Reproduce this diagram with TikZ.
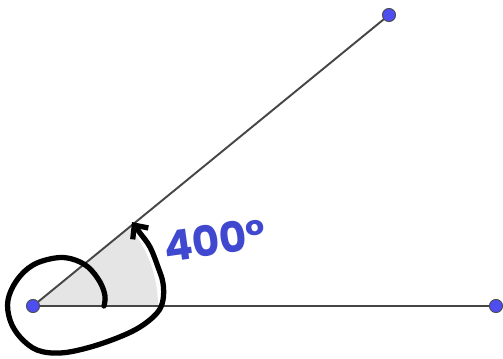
\documentclass[tikz,border=0pt]{standalone}
\usepackage{fontspec}
\setmainfont{Poppins}
\usetikzlibrary{arrows.meta}
\definecolor{puntoazul}{RGB}{77,77,240}
\definecolor{tinta}{RGB}{64,72,208}
\definecolor{lado}{RGB}{70,70,70}
\begin{document}
\begin{tikzpicture}[x=0.02cm, y=-0.02cm,
    punto/.style={circle, fill=puntoazul, draw=black!70, line width=0.5pt, minimum size=7.5pt, inner sep=0pt},
    ladoangulo/.style={draw=lado, line width=1.1pt},
    trazo/.style={line width=3pt, line cap=round, line join=round}]
    \useasboundingbox (0,0) rectangle (503,358);

    % Sector sombreado del angulo
    \fill[black!10] (33,306) -- ++(0:125) arc[start angle=0, end angle=-39.3, radius=125] -- cycle;

    % Lados del angulo
    \coordinate (V) at (33,306);
    \coordinate (A) at (389,15);
    \coordinate (B) at (496,306);
    \draw[ladoangulo] (V) -- (A);
    \draw[ladoangulo] (V) -- (B);

    % Espiral dibujada a mano
    \draw[trazo, -{Straight Barb[length=6pt, width=11pt, line width=3pt]}]
        plot[smooth, tension=0.6] coordinates {
            (104,306) (105,296) (100,282) (88,267) (72,259) (55,258)
            (33,265) (17,280) (8,300) (10,320) (20,337) (37,350)
            (60,353) (87,348) (117,338) (140,327) (157,313) (163,300)
            (163,283) (158,267) (150,247) (140,233) (132,222)
        };

    % Medida del angulo
    \node[text=tinta, font=\fontsize{24}{24}\selectfont\bfseries, rotate=8, inner sep=0pt] (medida) at (215,240) {400°};

    % Puntos
    \node[punto] (pV) at (V) {};
    \node[punto] (pA) at (A) {};
    \node[punto] (pB) at (B) {};
\end{tikzpicture}
\end{document}
